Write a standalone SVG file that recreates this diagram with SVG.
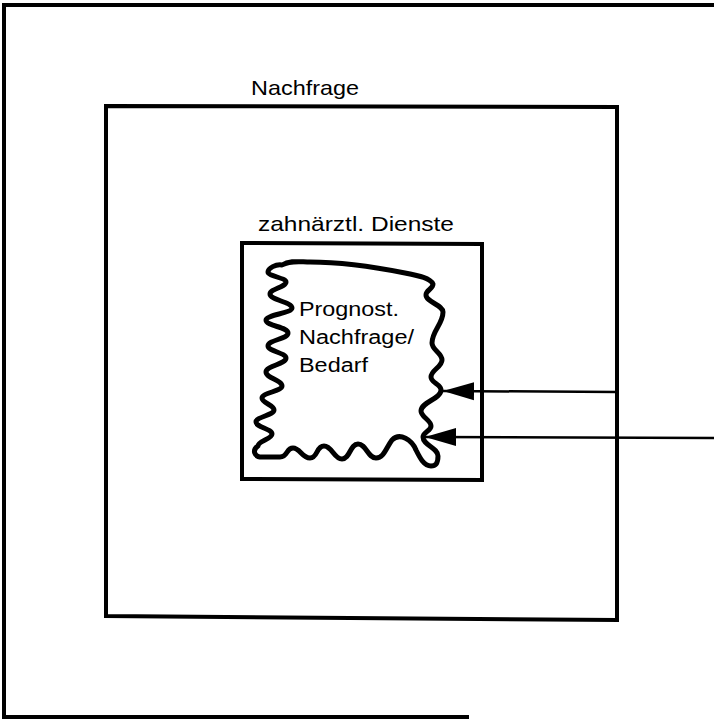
<svg xmlns="http://www.w3.org/2000/svg" width="714" height="720" viewBox="0 0 714 720">
<style>
  .frame { fill: none; stroke: #000; stroke-width: 4; stroke-linejoin: miter; }
  .lbl { font-family: "Liberation Sans", Arial, Helvetica, sans-serif; font-size: 21px; fill: #000; }
  .inner { font-family: "Liberation Sans", Arial, Helvetica, sans-serif; font-size: 20px; fill: #000; }
  .wave { fill: none; stroke: #000; stroke-width: 5; stroke-linejoin: round; stroke-linecap: round; }
  .conn { fill: none; stroke: #000; stroke-width: 2.5; }
</style>
<defs>
  <marker id="ah" markerWidth="32" markerHeight="20" refX="31" refY="10" orient="auto" markerUnits="userSpaceOnUse">
    <path d="M0,1 L31,10 L0,19 Z" fill="#000"/>
  </marker>
</defs>
<rect width="714" height="720" fill="#fff"/>
<g id="outer-frame">
  <path class="frame" d="M716,5 H4 V717 H469"/>
</g>
<g id="nachfrage">
  <polygon class="frame" points="106,106 617,107 617,620 106,616"/>
  <text class="lbl" x="251" y="95" textLength="108" lengthAdjust="spacingAndGlyphs">Nachfrage</text>
</g>
<g id="zahnaerztl-dienste">
  <polygon class="frame" points="242,243 482,244 482,480 242,479"/>
  <text class="lbl" x="258" y="231" textLength="196" lengthAdjust="spacingAndGlyphs">zahnärztl. Dienste</text>
</g>
<g id="prognost-nachfrage-bedarf">
  <path class="wave" d="M282,265 C290,260 300,262 310,262 C340,262 380,268 405,273 C420,276 430,278 433,284
    C433,289 426,290 426,295 C426,302 443,305 443,312 C443,324 432,331 432,343 C432,350 442,353 442,360
    C442,367 431,370 431,377 C431,383 441,384 441,390 C441,399 421,402 421,411 C421,417 431,420 431,426
    C431,431 423,432 423,437 C423,445 438,448 438,456 C438,463 436,466 431,466
    C424,466 420,458 416,450 C412,440 400,432 392,440 C386,448 384,458 376,458 C368,458 366,444 358,444
    C350,444 350,459 342,459 C334,459 332,446 324,446 C316,446 318,458 310,458 C302,458 300,448 293,448
    C286,448 288,457 280,457 L262,457 C254,457 252,450 258,446
    C258,441 272,439 272,434 C272,429 256,427 256,422 C256,417 274,415 274,410 C274,405 262,403 262,398
    C262,393 282,391 282,386 C282,380 266,378 266,372 C266,366 286,364 286,358 C286,353 268,351 268,346
    C268,340 288,339 288,333 C288,327 266,326 266,320 C266,315 292,313 292,308 C292,302 270,300 270,294
    C270,289 286,287 286,282 C286,278 268,276 268,272 C268,268 276,264 282,265 Z"/>
  <text class="inner" x="299" y="316" textLength="100" lengthAdjust="spacingAndGlyphs">Prognost.</text>
  <text class="inner" x="299" y="344" textLength="115" lengthAdjust="spacingAndGlyphs">Nachfrage/</text>
  <text class="inner" x="299" y="372" textLength="69" lengthAdjust="spacingAndGlyphs">Bedarf</text>
</g>
<g id="connectors">
  <line class="conn" x1="617" y1="392" x2="443" y2="391" marker-end="url(#ah)"/>
  <line class="conn" x1="716" y1="438" x2="425" y2="437" marker-end="url(#ah)"/>
</g>
</svg>
